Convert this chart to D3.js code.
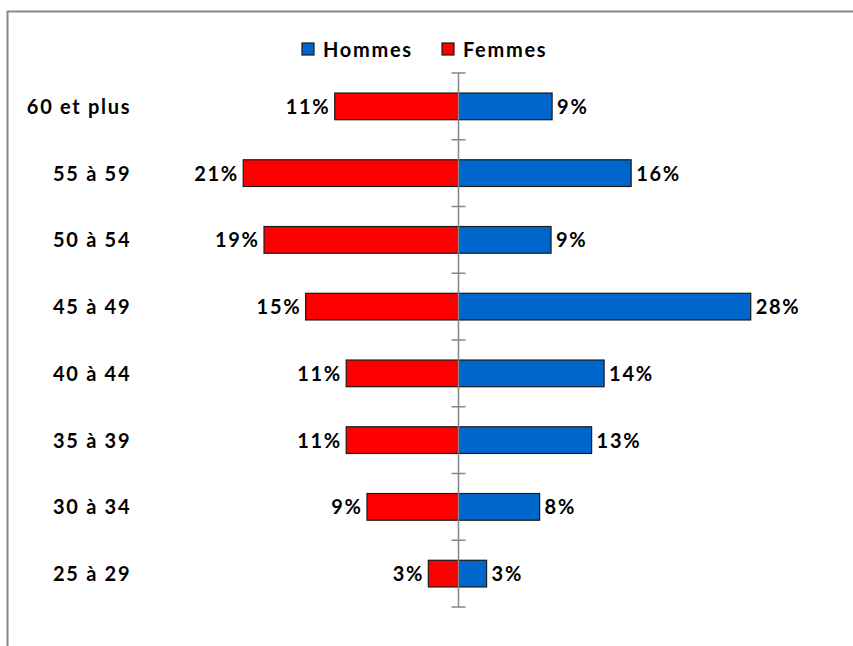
<!DOCTYPE html>
<meta charset="utf-8" />
<title>Pyramide des âges - D3.js</title>
<style>
  body { margin: 0; background: #fff; }
  text {
    font-family: Lato, sans-serif;
    font-weight: bold;
    font-size: 20px;
    letter-spacing: 1.7px;
    fill: #000;
  }
  .bar { stroke: #1a1a1a; stroke-width: 1.2px; }
  .axis-line { stroke: #868686; stroke-width: 1.5px; }
</style>
<body>
<svg width="853" height="646"></svg>
<script src="https://d3js.org/d3.v7.min.js"></script>
<script>
const width = 853, height = 646;
const svg = d3.select("svg");

// age groups, top to bottom
const ages = ["60 et plus", "55 à 59", "50 à 54", "45 à 49", "40 à 44", "35 à 39", "30 à 34", "25 à 29"];
// bar lengths (%)
const femmes = [11.9, 20.7, 18.7, 14.7, 10.8, 10.8, 8.8, 2.9];
const hommes = [9.0, 16.6, 8.9, 28.1, 14.0, 12.8, 7.8, 2.7];
// printed labels
const femmesLabels = ["11%", "21%", "19%", "15%", "11%", "11%", "9%", "3%"];
const hommesLabels = ["9%", "16%", "9%", "28%", "14%", "13%", "8%", "3%"];

const series = [
  { name: "Hommes", color: "#0066CC" },
  { name: "Femmes", color: "#FF0000" }
];

const ls = 1.7; // trailing letter-spacing, shifts right-aligned text

// chart frame
svg.append("rect")
  .attr("x", 7.5).attr("y", 11.5)
  .attr("width", 900).attr("height", 700)
  .attr("fill", "none")
  .attr("stroke", "#888")
  .attr("stroke-width", 2);

const x = d3.scaleLinear().domain([-30, 30]).range([146.5, 770.5]);
const y = d3.scaleBand().domain(ages).range([73, 607]).paddingInner(0.6).paddingOuter(0.3);
const step = y.step();
const bandTop = 73;

// female bars (left)
svg.append("g").selectAll("rect")
  .data(ages).join("rect")
  .attr("class", "bar")
  .attr("x", (d, i) => x(-femmes[i]))
  .attr("y", d => y(d))
  .attr("width", (d, i) => x(0) - x(-femmes[i]))
  .attr("height", y.bandwidth())
  .attr("fill", "#FF0000");

// male bars (right)
svg.append("g").selectAll("rect")
  .data(ages).join("rect")
  .attr("class", "bar")
  .attr("x", x(0))
  .attr("y", d => y(d))
  .attr("width", (d, i) => x(hommes[i]) - x(0))
  .attr("height", y.bandwidth())
  .attr("fill", "#0066CC");

// central axis with ticks between categories
const axis = svg.append("g");
axis.append("line")
  .attr("class", "axis-line")
  .attr("x1", x(0)).attr("x2", x(0))
  .attr("y1", bandTop).attr("y2", bandTop + step * ages.length);
axis.selectAll("line.tick")
  .data(d3.range(ages.length + 1)).join("line")
  .attr("class", "axis-line tick")
  .attr("x1", x(0) - 7).attr("x2", x(0) + 7)
  .attr("y1", i => bandTop + i * step)
  .attr("y2", i => bandTop + i * step);

const mid = d => y(d) + y.bandwidth() / 2 + 7.5;

// value labels
svg.append("g").selectAll("text")
  .data(ages).join("text")
  .attr("x", (d, i) => x(-femmes[i]) - 6 + ls)
  .attr("y", mid)
  .attr("text-anchor", "end")
  .text((d, i) => femmesLabels[i]);

svg.append("g").selectAll("text")
  .data(ages).join("text")
  .attr("x", (d, i) => x(hommes[i]) + 5)
  .attr("y", mid)
  .text((d, i) => hommesLabels[i]);

// category labels
svg.append("g").selectAll("text")
  .data(ages).join("text")
  .attr("x", 129.5 + ls)
  .attr("y", mid)
  .attr("text-anchor", "end")
  .text(d => d);

// legend
const legend = svg.append("g").selectAll("g")
  .data(series).join("g")
  .attr("transform", (d, i) => `translate(${[302, 442][i]},43)`);
legend.append("rect")
  .attr("width", 12).attr("height", 12)
  .attr("fill", d => d.color)
  .attr("stroke", "#1a1a1a")
  .attr("stroke-width", 1.2);
legend.append("text")
  .attr("x", 21).attr("y", 13.5)
  .text(d => d.name);
</script>
</body>
